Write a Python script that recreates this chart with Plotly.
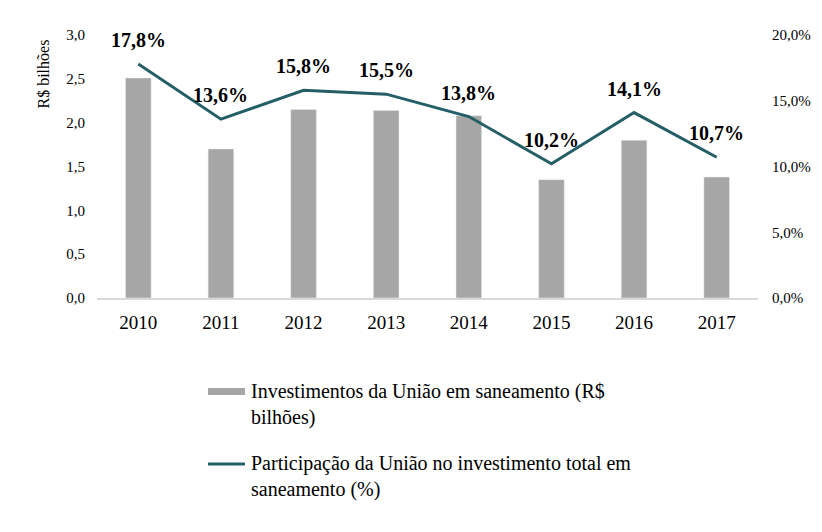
import plotly.graph_objects as go

years = ["2010", "2011", "2012", "2013", "2014", "2015", "2016", "2017"]
invest = [2.51, 1.70, 2.15, 2.14, 2.08, 1.35, 1.80, 1.38]
share = [17.8, 13.6, 15.8, 15.5, 13.8, 10.2, 14.1, 10.7]

bar_name = "Investimentos da União em saneamento (R$<br>bilhões)"
line_name = "Participação da União no investimento total em<br>saneamento (%)"

BAR_COLOR = "#A6A6A6"
LINE_COLOR = "#245F67"
FONT = "Liberation Serif"

# plot area in figure pixels (page has an 8px body offset)
PL, PR, PT, PB = 89, 750, 27, 290
PW, PH = PR - PL, PB - PT
OFF = 8


def px(xpix):
    return (xpix - OFF - PL) / PW


def py(ypix):
    return (PB - (ypix - OFF)) / PH


fig = go.Figure()
fig.add_trace(go.Bar(x=years, y=invest, marker_color=BAR_COLOR, name=bar_name,
                     yaxis="y", showlegend=False))
fig.add_trace(go.Scatter(x=years, y=share, mode="lines", line=dict(color=LINE_COLOR, width=3),
                         name=line_name, yaxis="y2", showlegend=False))

# data labels (category index positions on the category axis)
for i, v in enumerate(share):
    fig.add_annotation(x=i, y=v, xref="x", yref="y2", yshift=24, showarrow=False,
                       text="<b>" + f"{v:.1f}".replace(".", ",") + "%</b>",
                       font=dict(family=FONT, size=20, color="#000000"))

# y-axis title
fig.add_annotation(xref="paper", yref="paper", x=px(43), y=py(38),
                   xanchor="center", yanchor="top", textangle=-90, showarrow=False,
                   text="R$ bilhões", font=dict(family=FONT, size=16, color="#000000"))

# custom legend
fig.add_shape(type="rect", xref="paper", yref="paper", x0=px(208), x1=px(245),
              y0=py(388), y1=py(395), fillcolor=BAR_COLOR, line_width=0)
fig.add_shape(type="line", xref="paper", yref="paper", x0=px(208), x1=px(245),
              y0=py(464), y1=py(464), line=dict(color=LINE_COLOR, width=3))
fig.add_annotation(xref="paper", yref="paper", x=px(249), y=py(378),
                   xanchor="left", yanchor="top", align="left", showarrow=False,
                   text=bar_name, font=dict(family=FONT, size=20, color="#000000"))
fig.add_annotation(xref="paper", yref="paper", x=px(249), y=py(450),
                   xanchor="left", yanchor="top", align="left", showarrow=False,
                   text=line_name, font=dict(family=FONT, size=20, color="#000000"))

fig.update_layout(
    width=822, height=532,
    margin=dict(l=PL, r=822 - PR, t=PT, b=532 - PB),
    paper_bgcolor="white", plot_bgcolor="white",
    separators=",.",
    bargap=0.69,
    font=dict(family=FONT, color="#000000"),
    xaxis=dict(type="category", showline=True, linecolor="#D9D9D9", linewidth=1.5, ticks="",
               tickfont=dict(size=19), showgrid=False, ticklabelstandoff=6),
    yaxis=dict(range=[0, 3], dtick=0.5, tickformat=".1f", showgrid=False, zeroline=False,
               showline=False, tickfont=dict(size=15), ticklabelstandoff=11),
    yaxis2=dict(range=[0, 20], dtick=5, tickformat=".1f", ticksuffix="%", overlaying="y",
                side="right", showgrid=False, zeroline=False, showline=False,
                tickfont=dict(size=15), ticklabelstandoff=13),
)

fig.write_html("out.html")
